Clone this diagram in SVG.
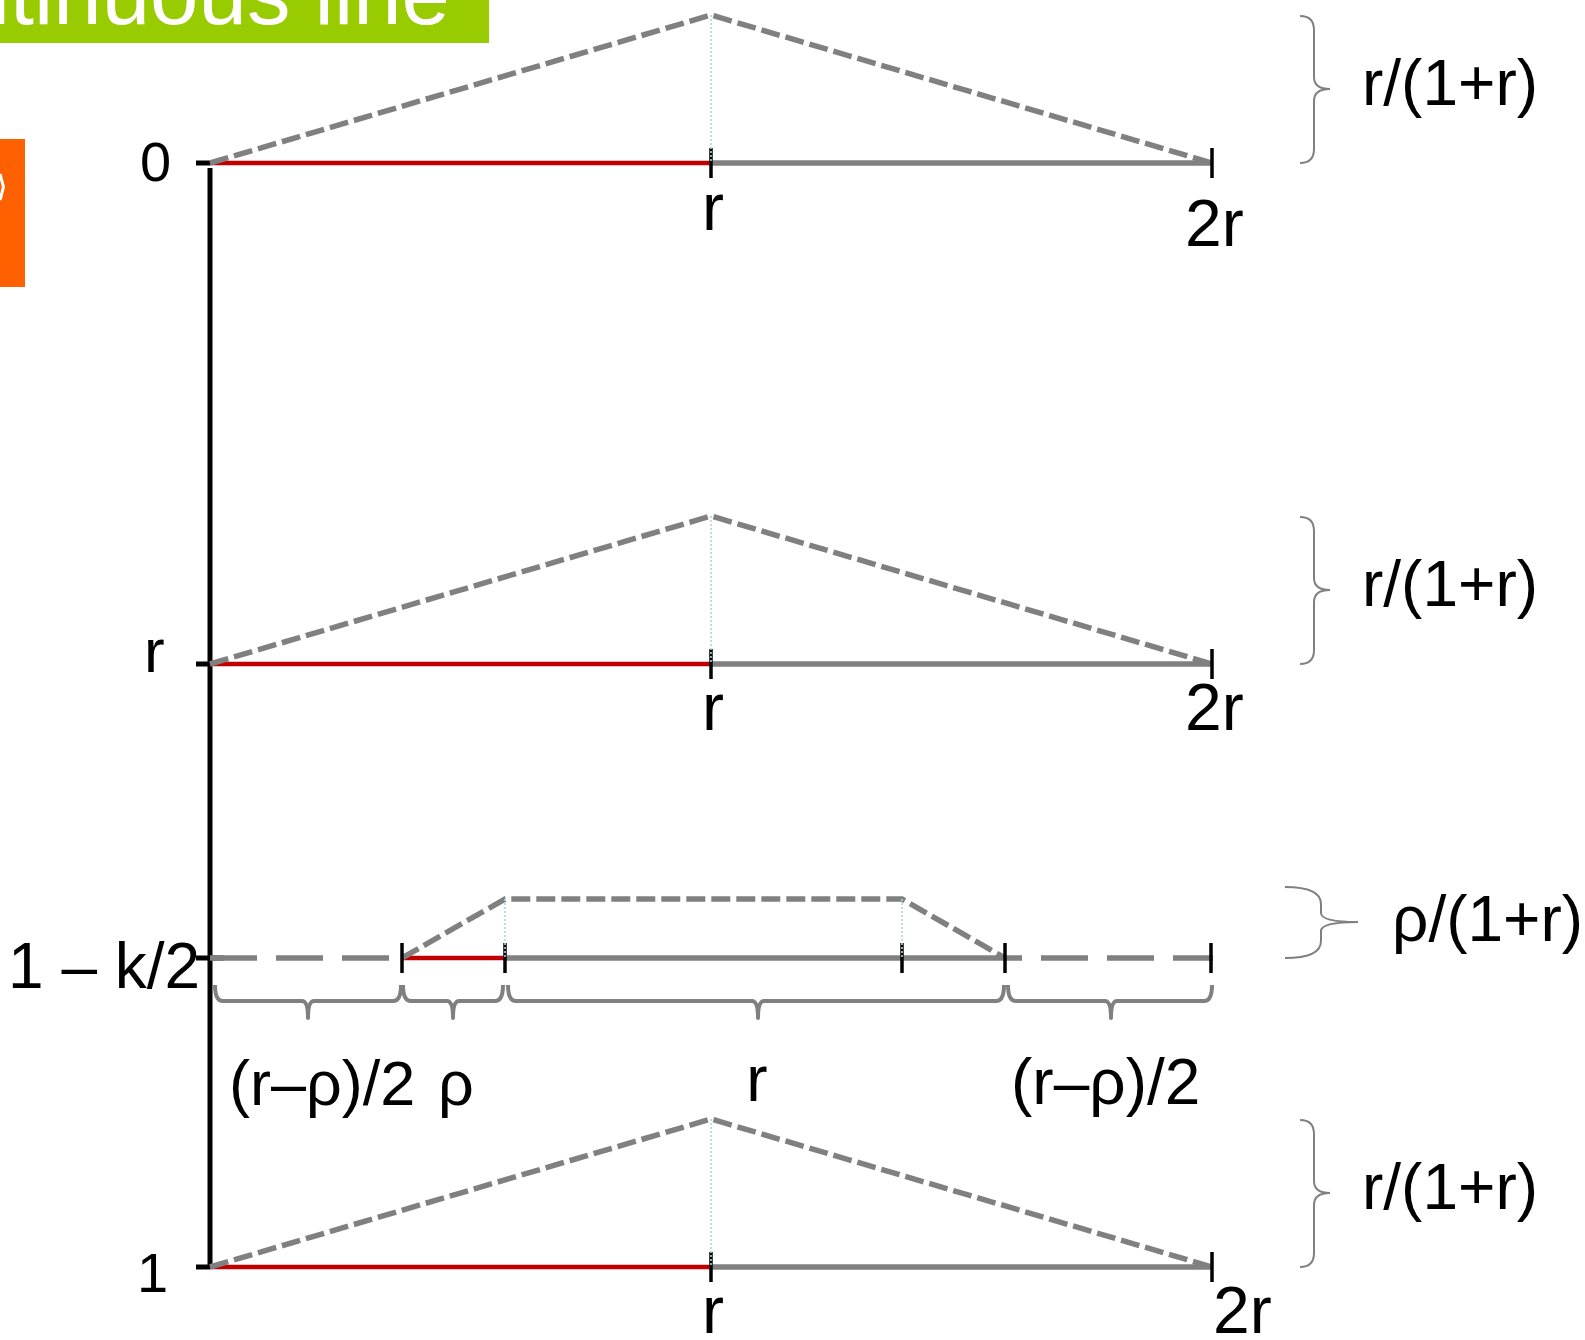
<svg xmlns="http://www.w3.org/2000/svg" width="1585" height="1340" viewBox="0 0 1585 1340">
<style>
text{font-family:"Liberation Sans",Arial,sans-serif;fill:#000}
.red{stroke:#C00000;stroke-width:4.5;fill:none}
.gray{stroke:#808080;stroke-width:5.5;fill:none}
.dash{stroke:#808080;stroke-width:5.5;fill:none;stroke-dasharray:19 6}
.ldash{stroke:#808080;stroke-width:5.5;fill:none;stroke-dasharray:47 19}
.tick{stroke:#000;stroke-width:3.5;fill:none}
.ltick{stroke:#000;stroke-width:5;fill:none}
.dot{stroke:#A9D6E5;stroke-width:1.6;fill:none;stroke-dasharray:2 2}
.brace{stroke:#808080;stroke-width:2;fill:none}
.hbrace{stroke:#808080;stroke-width:4;fill:none;stroke-linejoin:round}
</style>
<rect width="1585" height="1340" fill="#fff"/>
<g id="title-bar">
<rect x="0" y="0" width="489" height="43" fill="#99CC00"/>
<text x="450" y="24" font-size="87" text-anchor="end" style="fill:#fff">continuous line</text>
</g>
<g id="side-tab">
<rect x="0" y="139" width="25" height="148" fill="#FF6000"/>
<polyline points="0,174 3.5,187 0,200" stroke="#fff" stroke-width="3" fill="none"/>
</g>
<g id="connectors">
<line class="ltick" x1="210" y1="168" x2="210" y2="1269"/>
<line class="ltick" x1="196" y1="163" x2="210" y2="163"/>
<line class="ltick" x1="196" y1="664" x2="210" y2="664"/>
<line class="ltick" x1="196" y1="958" x2="224" y2="958"/>
<line class="ltick" x1="196" y1="1267" x2="210" y2="1267"/>
</g>
<g id="axis-labels">
<text x="140" y="181" font-size="56">0</text>
<text x="144" y="672" font-size="62">r</text>
<text x="8" y="988" font-size="64">1 – k/2</text>
<text x="137" y="1292" font-size="56">1</text>
</g>
<g id="row-0">
<line class="red" x1="210" y1="163" x2="711" y2="163"/>
<line class="gray" x1="711" y1="163" x2="1212" y2="163"/>
<path class="dash" d="M210,163 L711,15 L1212,163"/>
<line class="tick" x1="711" y1="148" x2="711" y2="178"/>
<line class="tick" x1="1212" y1="148" x2="1212" y2="178"/>
<line class="dot" x1="711" y1="15" x2="711" y2="163"/>
<text x="713" y="230" font-size="66" text-anchor="middle">r</text>
<text x="1185" y="246" font-size="66">2r</text>
<path class="brace" d="M1300,16 Q1314,16 1314,30 L1314,77 Q1314,89 1330,89 Q1314,89 1314,101 L1314,149 Q1314,163 1300,163"/>
<text x="1362" y="105" font-size="64">r/(1+r)</text>
</g>
<g id="row-r">
<line class="red" x1="210" y1="664" x2="711" y2="664"/>
<line class="gray" x1="711" y1="664" x2="1212" y2="664"/>
<path class="dash" d="M210,664 L711,516 L1212,664"/>
<line class="tick" x1="711" y1="649" x2="711" y2="679"/>
<line class="tick" x1="1212" y1="649" x2="1212" y2="679"/>
<line class="dot" x1="711" y1="516" x2="711" y2="664"/>
<text x="713" y="730" font-size="66" text-anchor="middle">r</text>
<text x="1185" y="730" font-size="66">2r</text>
<path class="brace" d="M1300,517 Q1314,517 1314,531 L1314,578 Q1314,590 1330,590 Q1314,590 1314,602 L1314,650 Q1314,664 1300,664"/>
<text x="1362" y="606" font-size="64">r/(1+r)</text>
</g>
<g id="row-k">
<path class="ldash" d="M210,958 L402,958"/>
<line class="red" x1="402" y1="958" x2="505" y2="958"/>
<line class="gray" x1="505" y1="958" x2="1005" y2="958"/>
<path class="ldash" d="M1213,958 L1005,958" stroke-dashoffset="7"/>
<path class="dash" d="M402,958 L505,899 L902,899 L1005,958"/>
<line class="tick" x1="402" y1="943" x2="402" y2="973"/>
<line class="tick" x1="505" y1="943" x2="505" y2="973"/>
<line class="tick" x1="902" y1="943" x2="902" y2="973"/>
<line class="tick" x1="1005" y1="943" x2="1005" y2="973"/>
<line class="tick" x1="1211" y1="943" x2="1211" y2="973"/>
<line class="dot" x1="505" y1="899" x2="505" y2="958"/>
<line class="dot" x1="902" y1="899" x2="902" y2="958"/>
<path class="hbrace" d="M215,985 Q215,1001 223,1001 L302,1001 Q308,1001 308,1018 Q308,1001 314,1001 L393,1001 Q401,1001 401,985"/>
<path class="hbrace" d="M403,985 Q403,1001 411,1001 L447,1001 Q453,1001 453,1018 Q453,1001 459,1001 L495,1001 Q503,1001 503,985"/>
<path class="hbrace" d="M508,985 Q508,1001 516,1001 L752,1001 Q758,1001 758,1018 Q758,1001 764,1001 L996,1001 Q1004,1001 1004,985"/>
<path class="hbrace" d="M1008,985 Q1008,1001 1016,1001 L1105,1001 Q1111,1001 1111,1018 Q1111,1001 1117,1001 L1204,1001 Q1212,1001 1212,985"/>
<text x="229" y="1105" font-size="63">(r–ρ)/2</text>
<text x="438" y="1105" font-size="63">ρ</text>
<text x="757" y="1101" font-size="64" text-anchor="middle">r</text>
<text x="1011" y="1104" font-size="64">(r–ρ)/2</text>
<path class="brace" d="M1285,887 Q1321,887 1321,904 L1321,913 Q1321,922 1358,922 Q1321,922 1321,931 L1321,941 Q1321,958 1285,958"/>
<text x="1392" y="941" font-size="64">ρ/(1+r)</text>
</g>
<g id="row-1">
<line class="red" x1="210" y1="1267" x2="711" y2="1267"/>
<line class="gray" x1="711" y1="1267" x2="1212" y2="1267"/>
<path class="dash" d="M210,1267 L711,1119 L1212,1267"/>
<line class="tick" x1="711" y1="1252" x2="711" y2="1282"/>
<line class="tick" x1="1212" y1="1252" x2="1212" y2="1282"/>
<line class="dot" x1="711" y1="1119" x2="711" y2="1267"/>
<text x="713" y="1333" font-size="66" text-anchor="middle">r</text>
<text x="1213" y="1333" font-size="66">2r</text>
<path class="brace" d="M1300,1120 Q1314,1120 1314,1134 L1314,1181 Q1314,1193 1330,1193 Q1314,1193 1314,1205 L1314,1253 Q1314,1267 1300,1267"/>
<text x="1362" y="1209" font-size="64">r/(1+r)</text>
</g>
</svg>
